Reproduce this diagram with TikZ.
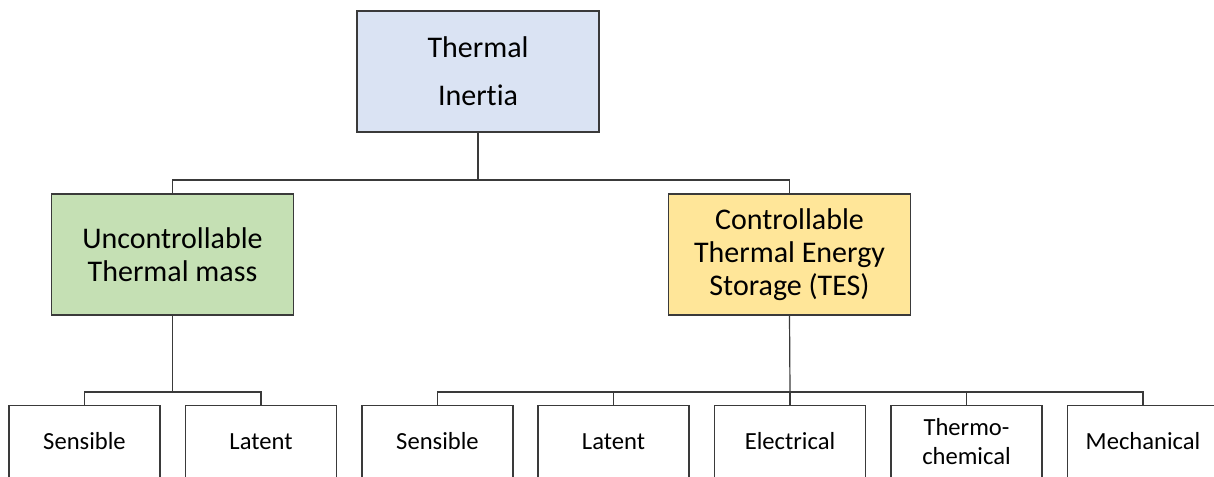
\documentclass[tikz,border=0pt]{standalone}
\usepackage{fontspec}
\setmainfont{Carlito}[Ligatures=NoCommon]
\definecolor{topblue}{HTML}{DAE3F3}
\definecolor{mgreen}{HTML}{C5E0B4}
\definecolor{myellow}{HTML}{FFE699}
\definecolor{edge}{HTML}{3A3A3A}
\begin{document}
\begin{tikzpicture}[x=1pt,y=-1pt,
  box/.style={draw=edge,line width=1.2pt,align=center,inner sep=0pt,text=black},
  bigbox/.style={box,minimum width=242pt,minimum height=121pt,font=\fontsize{30}{33}\selectfont},
  leaf/.style={box,fill=white,minimum width=151pt,minimum height=72pt,font=\fontsize{24.6}{29.5}\selectfont},
  wire/.style={draw=edge,line width=1.2pt}]
\useasboundingbox (0,0) rectangle (1214,476);
\clip (0,0) rectangle (1214,476);
\node[bigbox,fill=topblue,font=\fontsize{30}{48}\selectfont] (ti) at (478,71.5) {Thermal\\Inertia};
\node[bigbox,fill=mgreen] (um) at (172.5,254.5) {Uncontrollable\\Thermal mass};
\node[bigbox,fill=myellow] (ct) at (789.5,254.5) {Controllable\\Thermal Energy\\Storage (TES)};
\node[leaf] (ls) at (84.5,441.5) {Sensible};
\node[leaf] (ll) at (261,441.5) {Latent};
\node[leaf] (rs) at (437.5,441.5) {Sensible};
\node[leaf] (rl) at (613.5,441.5) {Latent};
\node[leaf] (re) at (790,441.5) {Electrical};
\node[leaf] (rt) at (966.5,441.5) {Thermo-\\chemical};
\node[leaf] (rm) at (1143,441.5) {Mechanical};
\coordinate (bus1) at (478,180);
\coordinate (bus2) at (172.5,392);
\coordinate (bus3) at (790,392);
\draw[wire] (ti.south) -- (bus1);
\draw[wire] (um.north) |- (bus1);
\draw[wire] (ct.north) |- (bus1);
\draw[wire] (um.south) -- (bus2);
\draw[wire] (ls.north) |- (bus2);
\draw[wire] (ll.north) |- (bus2);
\draw[wire] (ct.south) -- (bus3);
\draw[wire] (rs.north) |- (bus3);
\draw[wire] (rl.north) |- (bus3);
\draw[wire] (re.north) -- (bus3);
\draw[wire] (rt.north) |- (bus3);
\draw[wire] (rm.north) |- (bus3);
\end{tikzpicture}
\end{document}
